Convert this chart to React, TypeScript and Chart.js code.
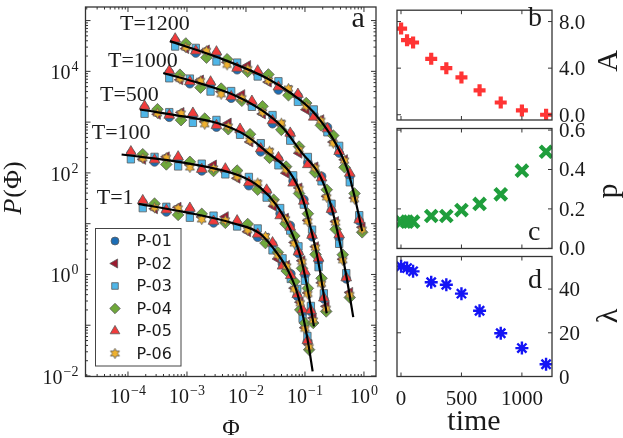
import { useEffect, useRef } from 'react';
import { Chart, registerables } from 'chart.js';
import { drawPoint } from 'chart.js/helpers';

Chart.register(...registerables);

const W = 623;
const H = 438;
const SERIF = '"Liberation Serif", "Times New Roman", serif';
const SANS = '"DejaVu Sans", "Liberation Sans", sans-serif';
const INK = '#1a1a1a';
const FRAME = '#333333';
const EDGE = '#5a5a5a';

// ---------- panel a: P(Phi) for several T ----------
const seriesNames = ['P-01', 'P-02', 'P-03', 'P-04', 'P-05', 'P-06'];
const curveLabels = ['T=1200', 'T=1000', 'T=500', 'T=100', 'T=1'];

// Phi bins: grid A used by P-01/03/05, grid B by P-02/04/06
const t1PhiA = [1.78e-4, 4.47e-4, 1.12e-3, 2.82e-3, 7.08e-3, 0.0158, 0.0282, 0.0417, 0.0575, 0.0741, 0.0912, 0.11];
const t1PhiB = [2.82e-4, 7.08e-4, 1.78e-3, 4.47e-3, 0.0107, 0.0214, 0.0347, 0.049, 0.0661, 0.0832, 0.1, 0.1175];
const t1P01 = [26.0, 17.1, 18.0, 10.4, 10.1, 5.43, 3.93, 1.61, 1.03, 0.376, 0.177, 0.0476];
const t1P02 = [19.7, 21.0, 13.6, 13.7, 6.97, 5.22, 2.02, 1.51, 0.537, 0.284, 0.0893, 0.0415];
const t1P03 = [20.2, 21.5, 13.1, 14.4, 8.81, 8.04, 2.98, 2.08, 0.815, 0.519, 0.134, 0.0614];
const t1P04 = [24.8, 14.9, 15.6, 10.4, 9.84, 4.15, 2.72, 1.17, 0.724, 0.201, 0.11, 0.033];
const t1P05 = [28.5, 18.7, 20.2, 11.2, 11.4, 6.24, 4.21, 1.47, 0.957, 0.403, 0.203, 0.0499];
const t1P06 = [20.6, 20.0, 12.1, 11.6, 7.46, 5.6, 2.37, 1.44, 0.513, 0.272, 0.0853, 0.037];

const t100PhiA = [1.12e-4, 2.82e-4, 7.08e-4, 1.78e-3, 4.47e-3, 0.0112, 0.0224, 0.038, 0.0562, 0.0776, 0.1, 0.126];
const t100PhiB = [1.78e-4, 4.47e-4, 1.12e-3, 2.82e-3, 7.08e-3, 0.0158, 0.0295, 0.0468, 0.0661, 0.0891, 0.112, 0.138];
const t100P01 = [238, 165, 185, 110, 107, 56.2, 43.0, 15.8, 9.18, 2.59, 0.986, 0.187];
const t100P02 = [185, 207, 144, 143, 78.5, 58.9, 22.0, 12.8, 4.26, 1.86, 0.433, 0.139];
const t100P03 = [185, 207, 134, 152, 93.5, 83.2, 32.6, 20.3, 7.29, 3.58, 0.748, 0.24];
const t100P04 = [233, 147, 165, 109, 111, 46.8, 29.6, 9.95, 5.74, 1.32, 0.532, 0.111];
const t100P05 = [261, 181, 207, 118, 120, 64.6, 46.0, 14.4, 8.57, 2.78, 1.13, 0.195];
const t100P06 = [194, 198, 128, 122, 84.1, 63.1, 25.8, 12.2, 4.06, 1.77, 0.413, 0.124];

const t500PhiA = [1.91e-4, 5.01e-4, 1.26e-3, 3.16e-3, 7.94e-3, 0.0178, 0.0355, 0.0631, 0.0955, 0.132, 0.17, 0.209];
const t500PhiB = [3.16e-4, 7.94e-4, 2.0e-3, 5.01e-3, 0.0117, 0.0251, 0.0479, 0.0794, 0.112, 0.151, 0.191, 0.229];
const t500P01 = [1884, 1250, 1337, 800, 647, 261, 186, 69.5, 29.8, 5.53, 1.83, 0.33];
const t500P02 = [1426, 1545, 1021, 955, 408, 249, 98.9, 50.6, 11.6, 3.52, 0.684, 0.236];
const t500P03 = [1462, 1574, 968, 1104, 564, 385, 141, 89.5, 23.7, 7.64, 1.39, 0.425];
const t500P04 = [1795, 1094, 1172, 724, 577, 198, 133, 39.3, 15.7, 2.49, 0.841, 0.187];
const t500P05 = [2065, 1371, 1500, 857, 726, 299, 200, 63.4, 27.8, 5.93, 2.1, 0.345];
const t500P06 = [1493, 1476, 910, 813, 438, 267, 116, 48.3, 11.1, 3.37, 0.653, 0.21];

const t1000PhiA = [5.01e-4, 1.12e-3, 2.51e-3, 5.62e-3, 0.0126, 0.0282, 0.0562, 0.112, 0.191, 0.282, 0.38, 0.501];
const t1000PhiB = [7.59e-4, 1.7e-3, 3.8e-3, 8.51e-3, 0.0191, 0.0398, 0.0794, 0.148, 0.234, 0.331, 0.437, 0.575];
const t1000P01 = [9397, 5728, 5521, 2965, 2301, 933, 568, 160, 85.7, 17.9, 5.28, 0.822];
const t1000P02 = [6823, 6745, 3981, 3475, 1452, 887, 244, 131, 34.5, 11.0, 1.99, 0.443];
const t1000P03 = [7295, 7211, 4000, 4093, 2004, 1380, 431, 206, 68.1, 24.7, 4.01, 1.06];
const t1000P04 = [8590, 4775, 4571, 2636, 2051, 705, 330, 102, 46.6, 7.76, 2.45, 0.352];
const t1000P05 = [10300, 6281, 6194, 3177, 2582, 1072, 608, 146, 80.0, 19.2, 6.07, 0.861];
const t1000P06 = [7145, 6442, 3548, 2958, 1556, 951, 287, 125, 33.0, 10.5, 1.9, 0.394];

const t1200PhiA = [6.31e-4, 1.41e-3, 3.16e-3, 7.08e-3, 0.0158, 0.0355, 0.0759, 0.141, 0.24, 0.38, 0.575, 0.832];
const t1200PhiB = [9.55e-4, 2.14e-3, 4.79e-3, 0.0107, 0.024, 0.0525, 0.105, 0.186, 0.302, 0.468, 0.692, 0.933];
const t1200P01 = [39720, 23010, 21580, 10790, 9100, 4305, 3304, 1380, 792, 247, 86.1, 11.4];
const t1200P02 = [28120, 26360, 15070, 13000, 6152, 4256, 1758, 1114, 404, 182, 32.0, 8.51];
const t1200P03 = [30830, 28970, 15630, 14890, 7925, 6368, 2506, 1778, 630, 341, 65.3, 14.7];
const t1200P04 = [35400, 18660, 17300, 9863, 8690, 3381, 2371, 865, 545, 129, 39.4, 6.76];
const t1200P05 = [43550, 25230, 24210, 11560, 10210, 4943, 3540, 1259, 740, 265, 98.9, 11.9];
const t1200P06 = [29440, 25180, 13430, 11070, 6592, 4560, 2065, 1064, 385, 174, 30.5, 7.59];

// fitted curves (black lines)
const fitT1Phi = [1.5e-4, 9.25e-4, 6.5e-3, 0.0173, 0.029, 0.049, 0.0723, 0.0935, 0.1137, 0.135];
const fitT1P = [24.6, 16.9, 10.0, 6.4, 3.3, 1.34, 0.47, 0.144, 0.0437, 0.0123];
const fitT100Phi = [7.8e-5, 9.25e-4, 7.9e-3, 0.0173, 0.0331, 0.0557, 0.0822, 0.107, 0.142];
const fitT100P = [230, 158, 87.5, 51.8, 22.9, 8.0, 2.45, 0.64, 0.095];
const fitT500Phi = [1.6e-4, 9.25e-4, 3.35e-3, 9.6e-3, 0.0236, 0.0557, 0.0879, 0.1216, 0.168, 0.233];
const fitT500P = [1774, 1279, 948, 562, 248, 101, 35.7, 9.35, 1.81, 0.172];
const fitT1000Phi = [3.96e-4, 1.77e-3, 6.5e-3, 0.01845, 0.0403, 0.0889, 0.1795, 0.2655, 0.366, 0.509, 0.659];
const fitT1000P = [9270, 5670, 3360, 1718, 818, 248, 87.5, 26.5, 5.98, 0.86, 0.144];
const fitT1200Phi = [5.15e-4, 3.4e-3, 0.0239, 0.0596, 0.13, 0.282, 0.398, 0.537, 0.708, 0.933];
const fitT1200P = [39300, 18700, 7080, 3620, 1718, 525, 251, 107, 30.9, 7.08];

const xTickExps = [-4, -3, -2, -1, 0];
const yTickExps = [-2, 0, 2, 4];

// ---------- panels b, c, d: fit parameters vs time ----------
const times = [1, 50, 100, 250, 375, 500, 650, 825, 1000, 1200];
const ampA = [7.4, 6.4, 6.2, 4.8, 4.0, 3.2, 2.1, 1.05, 0.37, 0.0];
const expP = [0.135, 0.135, 0.135, 0.164, 0.164, 0.194, 0.225, 0.274, 0.394, 0.49];
const lambdaVals = [50.4, 49.6, 48.1, 43.1, 42.0, 37.9, 30.1, 19.8, 13.0, 5.6];

const timeTicks = [0, 500, 1000];
const aTicks = [0, 4, 8];
const aTickLabels = ['0.0', '4.0', '8.0'];
const pTicks = [0, 0.2, 0.4, 0.6];
const pTickLabels = ['0.0', '0.2', '0.4', '0.6'];
const lTicks = [0, 20, 40];
const lTickLabels = ['0', '20', '40'];

const markerDefs = [
  { style: 'circle', radius: 4.4, rotation: 0, color: '#1c6db5' },
  { style: 'triangle', radius: 5.8, rotation: -90, color: '#9b1b30' },
  { style: 'rect', radius: 5.2, rotation: 0, color: '#4fb6e8' },
  { style: 'rectRot', radius: 5.8, rotation: 0, color: '#6fa83a' },
  { style: 'triangle', radius: 6.2, rotation: 0, color: '#f03b3b' },
  { style: 'star6', radius: 5.5, rotation: 0, color: '#efb12e' },
];

function makeStar(outer: number, inner: number, fill: string) {
  const size = Math.ceil(outer * 2 + 2);
  const c = document.createElement('canvas');
  c.width = size;
  c.height = size;
  const g = c.getContext('2d')!;
  g.translate(size / 2, size / 2);
  g.beginPath();
  for (let i = 0; i < 12; i++) {
    const r = i % 2 === 0 ? outer : inner;
    const ang = (Math.PI / 6) * i - Math.PI / 2;
    g.lineTo(Math.cos(ang) * r, Math.sin(ang) * r);
  }
  g.closePath();
  g.fillStyle = fill;
  g.fill();
  g.lineWidth = 0.8;
  g.strokeStyle = EDGE;
  g.stroke();
  return c;
}

function line(ctx: CanvasRenderingContext2D, x1: number, y1: number, x2: number, y2: number) {
  ctx.beginPath();
  ctx.moveTo(x1, y1);
  ctx.lineTo(x2, y2);
  ctx.stroke();
}

function drawPow(ctx: CanvasRenderingContext2D, exp: number, x: number, baseY: number, align: 'center' | 'right') {
  const sup = exp < 0 ? '\u2212' + -exp : String(exp);
  ctx.font = `20px ${SERIF}`;
  const wb = ctx.measureText('10').width;
  ctx.font = `14px ${SERIF}`;
  const ws = ctx.measureText(sup).width;
  const total = wb + ws + 1;
  const left = align === 'center' ? x - total / 2 : x - total;
  ctx.textAlign = 'left';
  ctx.textBaseline = 'alphabetic';
  ctx.font = `20px ${SERIF}`;
  ctx.fillText('10', left, baseY);
  ctx.font = `14px ${SERIF}`;
  ctx.fillText(sup, left + wb + 1, baseY - 8);
}

function mainConfig(): any {
  const star = makeStar(5.2, 2.8, markerDefs[5].color);
  const curves = [
    { phiA: t1PhiA, phiB: t1PhiB, series: [t1P01, t1P02, t1P03, t1P04, t1P05, t1P06] },
    { phiA: t100PhiA, phiB: t100PhiB, series: [t100P01, t100P02, t100P03, t100P04, t100P05, t100P06] },
    { phiA: t500PhiA, phiB: t500PhiB, series: [t500P01, t500P02, t500P03, t500P04, t500P05, t500P06] },
    { phiA: t1000PhiA, phiB: t1000PhiB, series: [t1000P01, t1000P02, t1000P03, t1000P04, t1000P05, t1000P06] },
    { phiA: t1200PhiA, phiB: t1200PhiB, series: [t1200P01, t1200P02, t1200P03, t1200P04, t1200P05, t1200P06] },
  ];
  const fits = [
    [fitT1Phi, fitT1P],
    [fitT100Phi, fitT100P],
    [fitT500Phi, fitT500P],
    [fitT1000Phi, fitT1000P],
    [fitT1200Phi, fitT1200P],
  ];
  const styles = markerDefs.map((m) => (m.style === 'star6' ? star : m.style));

  const datasets: any[] = seriesNames.map((name, k) => {
    const data: { x: number; y: number }[] = [];
    curves.forEach((c) => {
      const phi = k % 2 === 0 ? c.phiA : c.phiB;
      c.series[k].forEach((v, i) => data.push({ x: phi[i], y: v }));
    });
    const m = markerDefs[k];
    return {
      label: name,
      data,
      order: 10 - k,
      showLine: false,
      pointStyle: styles[k],
      pointRadius: m.radius,
      pointRotation: m.rotation,
      backgroundColor: m.color,
      borderColor: EDGE,
      borderWidth: 0.8,
    };
  });
  fits.forEach(([phi, p]) => {
    datasets.push({
      data: phi.map((x, i) => ({ x, y: p[i] })),
      order: 0,
      showLine: true,
      pointRadius: 0,
      borderColor: '#000',
      borderWidth: 2.2,
      cubicInterpolationMode: 'monotone',
    });
  });

  const decor = {
    id: 'mainDecor',
    afterDraw(chart: any) {
      const { ctx, chartArea: a } = chart;
      const xs = chart.scales.x;
      const ys = chart.scales.y;
      ctx.save();

      // legend
      ctx.fillStyle = '#fff';
      ctx.fillRect(95.5, 228.5, 85.5, 137.5);
      ctx.strokeStyle = '#444';
      ctx.lineWidth = 1;
      ctx.strokeRect(95.5, 228.5, 85.5, 137.5);
      seriesNames.forEach((name, k) => {
        const y = 241 + k * 22.5;
        const m = markerDefs[k];
        ctx.fillStyle = m.color;
        ctx.strokeStyle = EDGE;
        ctx.lineWidth = 0.8;
        drawPoint(ctx, { pointStyle: styles[k], rotation: m.rotation, radius: m.radius * 0.9, borderWidth: 0.8 } as any, 115, y);
        ctx.fillStyle = INK;
        ctx.font = `16px ${SANS}`;
        ctx.textAlign = 'left';
        ctx.textBaseline = 'middle';
        ctx.fillText(name, 136.5, y + 1);
      });

      // frame and ticks
      ctx.strokeStyle = FRAME;
      ctx.lineWidth = 1.3;
      ctx.strokeRect(a.left, a.top, a.right - a.left, a.bottom - a.top);
      ctx.lineWidth = 1;
      for (let d = -6; d <= 1; d++) {
        for (let m = 1; m <= 9; m++) {
          const v = m * Math.pow(10, d);
          if (v < xs.min || v > xs.max) continue;
          const px = xs.getPixelForValue(v);
          const len = m === 1 ? 5 : 2.5;
          line(ctx, px, a.bottom, px, a.bottom - len);
          line(ctx, px, a.top, px, a.top + len);
        }
      }
      for (let d = -3; d <= 5; d++) {
        for (let m = 1; m <= 9; m++) {
          const v = m * Math.pow(10, d);
          if (v < ys.min || v > ys.max) continue;
          const py = ys.getPixelForValue(v);
          const len = m === 1 ? 5 : 2.5;
          line(ctx, a.left, py, a.left + len, py);
          line(ctx, a.right, py, a.right - len, py);
        }
      }

      // tick labels
      ctx.fillStyle = INK;
      xTickExps.forEach((e) => drawPow(ctx, e, xs.getPixelForValue(Math.pow(10, e)), 403, 'center'));
      yTickExps.forEach((e) => drawPow(ctx, e, 78.5, ys.getPixelForValue(Math.pow(10, e)) + 7.7, 'right'));

      // axis titles
      ctx.font = `24px ${SERIF}`;
      ctx.textAlign = 'center';
      ctx.textBaseline = 'alphabetic';
      ctx.fillText('\u03a6', 231, 435);

      ctx.save();
      ctx.translate(21, 188);
      ctx.rotate(-Math.PI / 2);
      ctx.font = `italic 26px ${SERIF}`;
      const wp = ctx.measureText('P').width;
      ctx.font = `26px ${SERIF}`;
      const wr = ctx.measureText('(\u03a6)').width;
      const start = -(wp + wr + 1) / 2;
      ctx.textAlign = 'left';
      ctx.font = `italic 26px ${SERIF}`;
      ctx.fillText('P', start, 0);
      ctx.font = `26px ${SERIF}`;
      ctx.fillText('(\u03a6)', start + wp + 1, 0);
      ctx.restore();

      // curve labels
      const labelPos = [
        [120, 30],
        [108, 66.7],
        [100, 101],
        [91.7, 139.3],
        [96.7, 204.3],
      ];
      ctx.font = `22px ${SERIF}`;
      ctx.textAlign = 'left';
      curveLabels.forEach((t, i) => ctx.fillText(t, labelPos[i][0], labelPos[i][1]));

      // panel letter
      ctx.font = `30px ${SERIF}`;
      ctx.fillText('a', 351.5, 27.3);
      ctx.restore();
    },
  };

  return {
    type: 'scatter',
    data: { datasets },
    options: {
      responsive: false,
      animation: false,
      events: [],
      layout: { padding: { left: 85.5, top: 2, right: W - 376, bottom: H - 376.5 } },
      plugins: { legend: { display: false }, tooltip: { enabled: false } },
      scales: {
        x: { type: 'logarithmic', min: 1.905e-5, max: 1.6, display: false },
        y: { type: 'logarithmic', min: 9.78e-3, max: 1.85e5, display: false },
      },
    },
    plugins: [decor],
  };
}

interface SmallSpec {
  values: number[];
  top: number;
  bottom: number;
  yMin: number;
  yMax: number;
  ticks: number[];
  tickLabels: string[];
  title: string;
  titleY: number;
  letter: string;
  letterY: number;
  showTime: boolean;
  point: any;
}

function smallConfig(s: SmallSpec): any {
  const left = 397;
  const right = 552;
  const decor = {
    id: 'smallDecor',
    afterDraw(chart: any) {
      const { ctx, chartArea: a } = chart;
      const xs = chart.scales.x;
      const ys = chart.scales.y;
      ctx.save();
      ctx.strokeStyle = FRAME;
      ctx.lineWidth = 1.3;
      ctx.strokeRect(a.left, a.top, a.right - a.left, a.bottom - a.top);
      ctx.lineWidth = 1;
      timeTicks.forEach((t) => {
        const px = xs.getPixelForValue(t);
        line(ctx, px, a.bottom, px, a.bottom - 4);
        line(ctx, px, a.top, px, a.top + 4);
      });
      s.ticks.forEach((v) => {
        const py = ys.getPixelForValue(v);
        line(ctx, a.left, py, a.left + 4, py);
        line(ctx, a.right, py, a.right - 4, py);
      });
      ctx.fillStyle = INK;
      ctx.font = `21px ${SERIF}`;
      ctx.textAlign = 'left';
      ctx.textBaseline = 'alphabetic';
      s.ticks.forEach((v, i) => ctx.fillText(s.tickLabels[i], 559, ys.getPixelForValue(v) + 7));
      if (s.showTime) {
        ctx.textAlign = 'center';
        timeTicks.forEach((t) => ctx.fillText(String(t), xs.getPixelForValue(t), 405));
        ctx.font = `30px ${SERIF}`;
        ctx.fillText('time', 474, 430);
      }
      ctx.font = `28px ${SERIF}`;
      ctx.textAlign = 'left';
      ctx.fillText(s.letter, 528, s.letterY);

      ctx.save();
      ctx.translate(617, s.titleY);
      ctx.rotate(-Math.PI / 2);
      ctx.font = `30px ${SERIF}`;
      ctx.textAlign = 'center';
      ctx.fillText(s.title, 0, 0);
      ctx.restore();
      ctx.restore();
    },
  };
  return {
    type: 'scatter',
    data: {
      datasets: [
        {
          data: times.map((t, i) => ({ x: t, y: s.values[i] })),
          ...s.point,
        },
      ],
    },
    options: {
      responsive: false,
      animation: false,
      events: [],
      layout: { padding: { left, top: s.top, right: W - right, bottom: H - s.bottom } },
      plugins: { legend: { display: false }, tooltip: { enabled: false } },
      scales: {
        x: { type: 'linear', min: -33, max: 1249, display: false },
        y: { type: 'linear', min: s.yMin, max: s.yMax, display: false },
      },
    },
    plugins: [decor],
  };
}

const bSpec: SmallSpec = {
  values: ampA, top: 1, bottom: 120, yMin: -0.451, yMax: 8.974,
  ticks: aTicks, tickLabels: aTickLabels, title: 'A', titleY: 61,
  letter: 'b', letterY: 26, showTime: false,
  point: { pointStyle: 'cross', pointRadius: 6, borderWidth: 4.2, borderColor: '#ff3434', backgroundColor: '#ff3434' },
};
const cSpec: SmallSpec = {
  values: expP, top: 128.5, bottom: 248.5, yMin: -0.001, yMax: 0.608,
  ticks: pTicks, tickLabels: pTickLabels, title: 'p', titleY: 191,
  letter: 'c', letterY: 240, showTime: false,
  point: { pointStyle: 'crossRot', pointRadius: 8.2, borderWidth: 4.4, borderColor: '#1f9e3c', backgroundColor: '#1f9e3c' },
};
const dSpec: SmallSpec = {
  values: lambdaVals, top: 256.5, bottom: 376.5, yMin: 0, yMax: 54.9,
  ticks: lTicks, tickLabels: lTickLabels, title: '\u03bb', titleY: 316,
  letter: 'd', letterY: 288.3, showTime: true,
  point: { pointStyle: 'star', pointRadius: 6.5, borderWidth: 2.4, borderColor: '#1414f5', backgroundColor: '#1414f5' },
};

function ChartCanvas({ build }: { build: () => any }) {
  const ref = useRef<HTMLCanvasElement>(null);
  useEffect(() => {
    if (!ref.current) return;
    const chart = new Chart(ref.current, build());
    return () => chart.destroy();
  }, [build]);
  return (
    <canvas
      ref={ref}
      width={W}
      height={H}
      style={{ position: 'absolute', left: 0, top: 0, width: W, height: H }}
    />
  );
}

const buildMain = () => mainConfig();
const buildB = () => smallConfig(bSpec);
const buildC = () => smallConfig(cSpec);
const buildD = () => smallConfig(dSpec);

export default function App() {
  return (
    <div style={{ position: 'absolute', left: 0, top: 0, width: W, height: H, background: '#fff', overflow: 'hidden' }}>
      <ChartCanvas build={buildMain} />
      <ChartCanvas build={buildB} />
      <ChartCanvas build={buildC} />
      <ChartCanvas build={buildD} />
    </div>
  );
}
